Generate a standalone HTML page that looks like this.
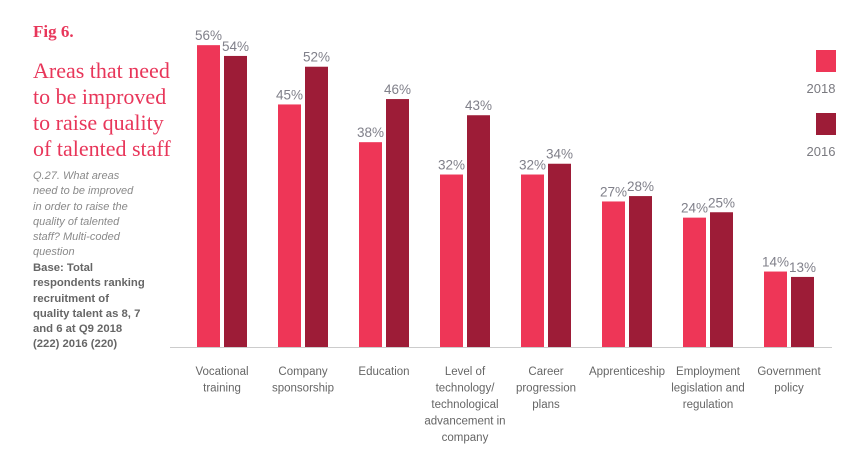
<!DOCTYPE html>
<html><head><meta charset="utf-8"><style>
body{margin:0;background:#fff;width:868px;height:471px;overflow:hidden;position:relative;font-family:"Liberation Sans",sans-serif}
.t{position:absolute;white-space:nowrap}
</style></head><body>
<div class="t" style="left:33px;top:22px;font:bold 17px 'Liberation Serif',serif;color:#e8365a">Fig 6.</div>
<div class="t" style="left:33px;top:58px;font:22px/26px 'Liberation Serif',serif;color:#e8365a">Areas that need<br>to be improved<br>to raise quality<br>of talented staff</div>
<div class="t" style="left:33px;top:169px;font:italic 11px/15.3px 'Liberation Sans',sans-serif;color:#8a8a8a">Q.27. What areas<br>need to be improved<br>in order to raise the<br>quality of talented<br>staff? Multi-coded<br>question</div>
<div class="t" style="left:33px;top:261px;font:bold 11.3px/15.3px 'Liberation Sans',sans-serif;color:#666">Base: Total<br>respondents ranking<br>recruitment of<br>quality talent as 8, 7<br>and 6 at Q9 2018<br>(222) 2016 (220)</div>
<svg id="c" width="868" height="471" style="position:absolute;left:0;top:0"></svg>
<script>
const categories=["Vocational\ntraining","Company\nsponsorship","Education","Level of\ntechnology/\ntechnological\nadvancement in\ncompany","Career\nprogression\nplans","Apprenticeship","Employment\nlegislation and\nregulation","Government\npolicy"];
const values2018=[56,45,38,32,32,27,24,14];
const values2016=[54,52,46,43,34,28,25,13];
const series=["2018","2016"];
const svg=document.getElementById('c');const NS='http://www.w3.org/2000/svg';
const base=347,scale=5.39,x0=197,step=81,bw=23;
function y(v){return base-v*scale;}
function x(i){return x0+i*step;}
function mk(t,a){const e=document.createElementNS(NS,t);for(const k in a)e.setAttribute(k,a[k]);svg.appendChild(e);return e;}
const ax=mk('line',{x1:170,x2:832,y1:base+0.5,y2:base+0.5,stroke:'#ccc','stroke-width':1});


const cols=['#ee3657','#9d1c37'];
[values2018,values2016].forEach((vals,s)=>{vals.forEach((v,i)=>{
const bx=x(i)+s*(bw+4);
const r=mk('rect',{x:bx,y:y(v),width:bw,height:v*scale,fill:cols[s]});


const t=mk('text',{x:bx+bw/2,y:y(v)-5,'text-anchor':'middle','font-size':13.5,fill:'#80808a','font-family':'Liberation Sans, sans-serif'});
t.textContent=v+'%';


});});
categories.forEach((c,i)=>{const cx=x(i)+bw+2;
c.split('\n').forEach((ln,j)=>{const t=mk('text',{x:cx,y:375+j*16.5,'text-anchor':'middle','font-size':11.5,fill:'#666','font-family':'Liberation Sans, sans-serif'});t.textContent=ln;

});});
series.forEach((s,k)=>{const yy=50+k*63;
const r=mk('rect',{x:816,y:yy,width:20,height:22,fill:cols[k]});


const t=mk('text',{x:821,y:yy+43,'text-anchor':'middle','font-size':13,fill:'#7a7a80','font-family':'Liberation Sans, sans-serif'});t.textContent=s;

});
</script>
</body></html>
